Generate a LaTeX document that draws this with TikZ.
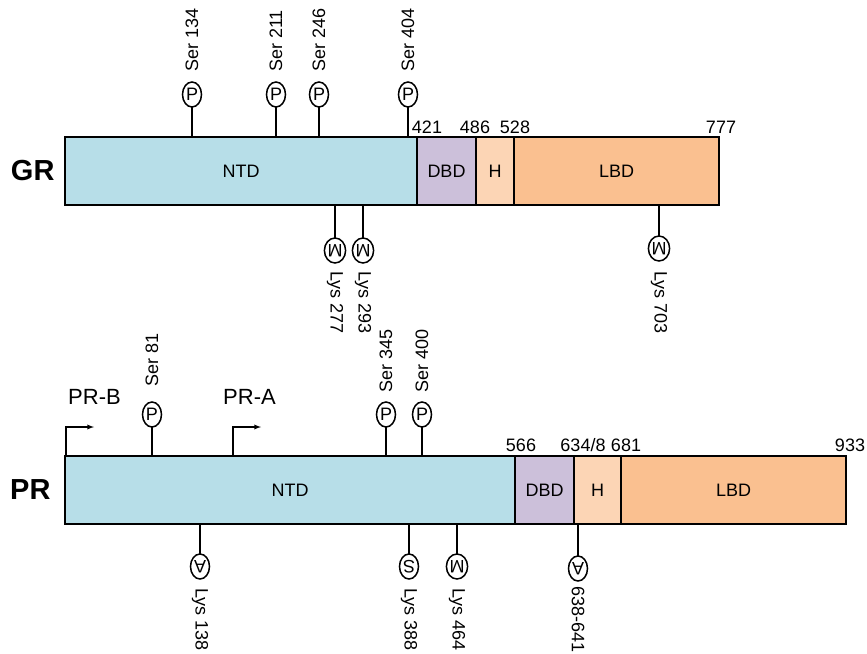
\documentclass[tikz,border=0pt]{standalone}
\usepackage{fontspec}
\setmainfont{Liberation Sans}
\usepackage{graphicx}
\usepackage{tikz}
\usetikzlibrary{shapes,arrows,positioning,calc}

\definecolor{ntdcol}{RGB}{183,222,232}
\definecolor{dbdcol}{RGB}{204,192,218}
\definecolor{hcol}{RGB}{252,213,181}
\definecolor{lbdcol}{RGB}{250,192,144}

\begin{document}
\begin{tikzpicture}[%
    x=1pt, y=-1pt,              % pixel-like coordinates, y grows downwards
    >=latex,                    % small filled arrow heads
    node distance=30pt,         % default stick length
    ]
% -------------------------------------------------
% Domain boxes and site marks
\tikzset{
  base/.style={draw, line width=2.5pt, outer sep=0pt, inner sep=0pt,
    minimum height=68pt, font=\fontsize{18}{21}\selectfont},
  ntd/.style={base, fill=ntdcol},
  dbd/.style={base, fill=dbdcol},
  hng/.style={base, fill=hcol},
  lbd/.style={base, fill=lbdcol},
  % site mark: small ellipse holding one letter
  site/.style={draw, ellipse, line width=1.5pt, outer sep=0pt, inner sep=0pt,
    minimum width=19pt, minimum height=25pt, font=\fontsize{18}{20}\selectfont},
  % residue labels, above read upwards, below read downwards
  lblup/.style={rotate=90, anchor=west, inner sep=1pt, font=\fontsize{18}{21}\selectfont},
  lbldn/.style={rotate=-90, anchor=west, inner sep=1pt, font=\fontsize{18}{21}\selectfont},
  num/.style={inner sep=2pt, font=\fontsize{18}{21}\selectfont},
  recname/.style={font=\fontsize{29}{32}\selectfont\bfseries},
  isoname/.style={inner sep=0pt, font=\fontsize{22}{25}\selectfont},
  % -------------------------------------------------
  stick/.style={line width=1.3pt}
}
\newcommand{\dn}[1]{\rotatebox[origin=c]{180}{#1}}
\useasboundingbox (0,0) rectangle (867,653);
% -------------------------------------------------
% GR
\node [ntd, minimum width=352pt, anchor=north west] (gntd) at (65,137) {NTD};
\node [dbd, minimum width=59pt, right=0pt of gntd] (gdbd) {DBD};
\node [hng, minimum width=38pt, right=0pt of gdbd] (gh) {H};
\node [lbd, minimum width=205pt, right=0pt of gh] (glbd) {LBD};
\node [recname, left=7pt of gntd] (gr) {GR};

\node [num, above=1.5pt of gdbd.north west, anchor=south, xshift=10pt] {421};
\node [num, above=1.5pt of gh.north west, anchor=south, xshift=-1pt] {486};
\node [num, above=1.5pt of glbd.north west, anchor=south, xshift=1pt] {528};
\node [num, above=1.5pt of glbd.north east, anchor=south, xshift=2pt] {777};

% PR
\node [ntd, minimum width=450pt, anchor=north west] (pntd) at (65,456) {NTD};
\node [dbd, minimum width=59pt, right=0pt of pntd] (pdbd) {DBD};
\node [hng, minimum width=47pt, right=0pt of pdbd] (ph) {H};
\node [lbd, minimum width=225pt, right=0pt of ph] (plbd) {LBD};
\node [recname, left=11pt of pntd] (pr) {PR};

\node [num, above=2pt of pdbd.north west, anchor=south, xshift=6pt] {566};
\node [num, above=2pt of ph.north west, anchor=south, xshift=9pt] {634/8};
\node [num, above=2pt of plbd.north west, anchor=south, xshift=5pt] {681};
\node [num, above=2pt of plbd.north east, anchor=south, xshift=4pt] {933};

% Invisible stick roots on the bar edges
\coordinate (g1) at (192,137);
\coordinate (g2) at (276,137);
\coordinate (g3) at (319,137);
\coordinate (g4) at (408,137);
\coordinate (g5) at (335,205);
\coordinate (g6) at (363,205);
\coordinate (g7) at (659,205);
\coordinate (p1) at (152,456);
\coordinate (p2) at (386,456);
\coordinate (p3) at (422,456);
\coordinate (p4) at (200,524);
\coordinate (p5) at (409,524);
\coordinate (p6) at (457,524);
\coordinate (p7) at (578,524);

% GR sites
\node [site, above=of g1] (mg1) {P};
\node [site, above=of g2] (mg2) {P};
\node [site, above=of g3] (mg3) {P};
\node [site, above=of g4] (mg4) {P};
\node [site, below=33pt of g5] (mg5) {\dn{M}};
\node [site, below=33pt of g6] (mg6) {\dn{M}};
\node [site, below=31pt of g7] (mg7) {\dn{M}};

\node [above=9pt of mg1, lblup] {Ser 134};
\node [above=9pt of mg2, lblup] {Ser 211};
\node [above=9pt of mg3, lblup] {Ser 246};
\node [above=9pt of mg4, lblup] {Ser 404};
\node [below=7pt of mg5, lbldn] {Lys 277};
\node [below=7pt of mg6, lbldn] {Lys 293};
\node [below=9pt of mg7, lbldn] {Lys 703};

% PR sites
\node [site, above=29pt of p1] (mp1) {P};
\node [site, above=29pt of p2] (mp2) {P};
\node [site, above=29pt of p3] (mp3) {P};
\node [site, below=30pt of p4] (mp4) {\dn{A}};
\node [site, below=30pt of p5] (mp5) {\dn{S}};
\node [site, below=30pt of p6] (mp6) {\dn{M}};
\node [site, below=32pt of p7] (mp7) {\dn{A}};

\node [above=14pt of mp1, lblup] {Ser 81};
\node [above=8pt of mp2, lblup] {Ser 345};
\node [above=8pt of mp3, lblup] {Ser 400};
\node [below=8pt of mp4, lbldn] {Lys 138};
\node [below=8pt of mp5, lbldn] {Lys 388};
\node [below=8pt of mp6, lbldn] {Lys 464};
\node [below=4pt of mp7, lbldn] {638-641};

% Sticks
\foreach \s in {g1,g2,g3,g4,g5,g6,g7,p1,p2,p3,p4,p5,p6,p7}
  \draw [stick] (\s) -- (m\s);

% Isoform starts
\coordinate (pbs) at (66,456);
\coordinate (pbc) at (66,427);
\coordinate (pbe) at (94,427);
\coordinate (pas) at (233,456);
\coordinate (pac) at (233,427);
\coordinate (pae) at (261,427);

\draw [stick, ->] (pbs) |- (pbe);
\draw [stick, ->] (pas) |- (pac) -- (pae);

\node [isoname, above right=22pt and 2pt of pbc] (prb) {PR-B};
\node [isoname, above right=22pt and -10pt of pac] (pra) {PR-A};

\end{tikzpicture}
\end{document}
